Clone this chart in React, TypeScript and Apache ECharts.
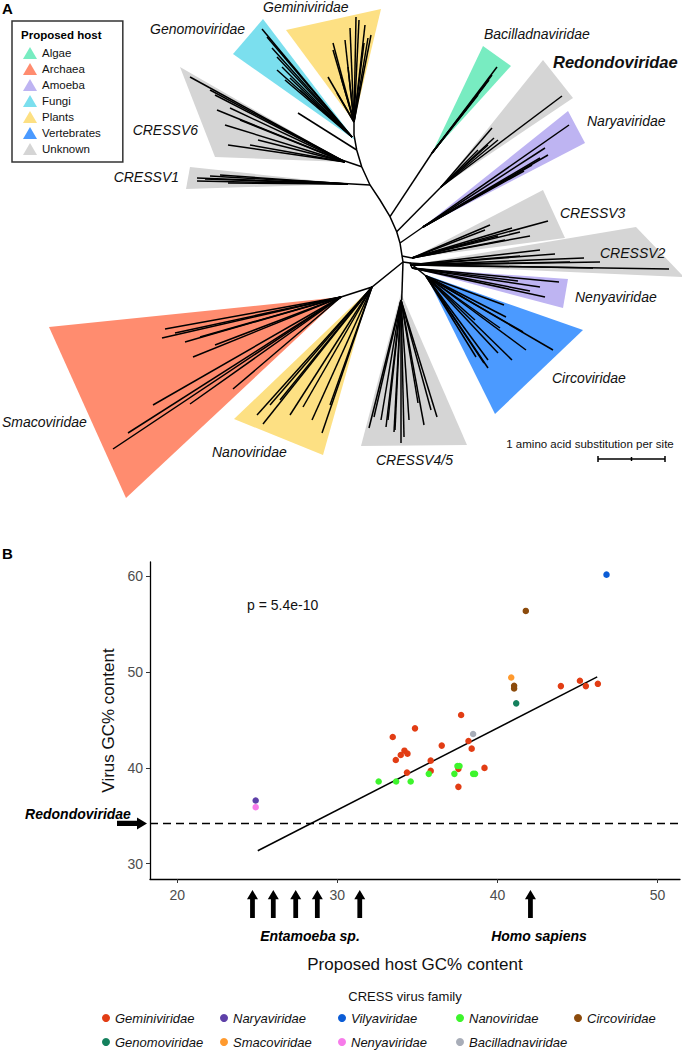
import React, { useEffect, useRef } from 'react';
import * as echarts from 'echarts';

const FONT = '"Liberation Sans", Arial, Helvetica, sans-serif';

// ---------------- Panel A: tree (coordinates in tree units) ----------------
const HOSTS = ['Algae', 'Archaea', 'Amoeba', 'Fungi', 'Plants', 'Vertebrates', 'Unknown'];
const HOST_COLORS = ['#78ECC1', '#FF8C6F', '#BEB4F2', '#7BDFEE', '#FDE083', '#4B9AFF', '#D5D5D5'];

const CLADE_NAMES = [
  'Genomoviridae', 'Geminiviridae', 'CRESSV6', 'CRESSV1', 'Bacilladnaviridae', 'Redondoviridae',
  'Naryaviridae', 'CRESSV3', 'CRESSV2', 'Nenyaviridae', 'Circoviridae', 'CRESSV4/5', 'Smacoviridae', 'Nanoviridae',
];
const CLADE_HOSTS = [
  'Fungi', 'Plants', 'Unknown', 'Unknown', 'Algae', 'Unknown',
  'Amoeba', 'Unknown', 'Unknown', 'Amoeba', 'Vertebrates', 'Unknown', 'Archaea', 'Plants',
];
// wedge: [apex, tipA, tipB]
const CLADE_WEDGES = [
  [[355, 140], [233, 54], [263, 19]],
  [[354, 122], [286, 30], [381, 9]],
  [[345, 162], [180, 67], [215, 157]],
  [[348, 184], [190, 167], [186, 189]],
  [[432, 153], [483, 46], [511, 66]],
  [[441, 187], [543, 60], [573, 98]],
  [[423, 227], [568, 111], [585, 143]],
  [[412, 258], [543, 190], [565, 238]],
  [[410, 265], [636, 227], [684, 277]],
  [[412, 268], [568, 279], [563, 308]],
  [[426, 275], [583, 330], [495, 414]],
  [[401, 293], [361, 446], [467, 445]],
  [[341, 297], [49, 327], [126, 498]],
  [[370, 289], [234, 419], [323, 455]],
];
const CLADE_LABEL_POS = [
  [245, 29], [263, 7], [198, 130], [179, 177], [484, 34], [553, 62], [587, 121],
  [560, 213], [600, 253], [575, 297], [552, 378], [376, 460], [2, 422], [212, 452],
];
const CLADE_LABEL_ALIGN = [
  'right', 'left', 'right', 'right', 'left', 'left', 'left',
  'left', 'left', 'left', 'left', 'left', 'left', 'left',
];
// leaf origins and tips per clade
const CLADE_ORIGINS = [
  [352, 137], [354, 122], [345, 162], [348, 184], [432, 153], [441, 187], [423, 227],
  [412, 258], [410, 265], [412, 268], [426, 276], [401, 300], [341, 297], [372, 287],
];
const CLADE_TIPS = [
  [[262, 29], [267, 37], [277, 57], [282, 67], [277, 70], [285, 80], [300, 90], [272, 48], [290, 78]],
  [[356, 17], [359, 20], [371, 35], [368, 38], [364, 43], [365, 25], [333, 43], [333, 50], [345, 40], [348, 67], [341, 77], [328, 77], [337, 93], [350, 28]],
  [[190, 77], [210, 90], [217, 110], [225, 125], [240, 120], [228, 145], [258, 140], [250, 145], [215, 95], [230, 108]],
  [[197, 178], [197, 181], [210, 176], [220, 175], [228, 183], [205, 179]],
  [[497, 67], [492, 75], [485, 85], [478, 95], [489, 80]],
  [[562, 96], [492, 128], [494, 138], [498, 140], [478, 150], [488, 145]],
  [[569, 125], [548, 155], [545, 148], [540, 158], [524, 171], [532, 165]],
  [[548, 221], [490, 225], [520, 232], [505, 240], [530, 236], [485, 230], [512, 228], [498, 236]],
  [[669, 269], [593, 268], [584, 258], [555, 254], [540, 250], [600, 262], [570, 262], [520, 256]],
  [[559, 282], [540, 287], [545, 297], [518, 281], [530, 291]],
  [[553, 350], [526, 350], [523, 332], [512, 360], [488, 360], [488, 368], [484, 363], [504, 305], [506, 317], [500, 328], [498, 353], [476, 357], [475, 320]],
  [[369, 428], [374, 417], [381, 420], [386, 427], [388, 420], [394, 432], [401, 443], [404, 437], [409, 420], [418, 403], [424, 425], [431, 410], [437, 417], [395, 430]],
  [[165, 329], [162, 338], [175, 333], [193, 357], [153, 405], [128, 433], [113, 449], [190, 404], [233, 389], [200, 337], [185, 342], [215, 345]],
  [[257, 415], [263, 424], [322, 433], [303, 407], [280, 400], [330, 405], [290, 415], [270, 405], [312, 420]],
];
const BACKBONE = [
  [[403, 262], [400, 243], [396.7, 231.7], [390, 216.7], [380, 200], [370, 185], [361.7, 166.7], [356.7, 150], [354, 135], [354, 122]],
  [[370, 185], [300, 181]],
  [[361.7, 166.7], [333, 157]],
  [[356.7, 150], [298, 113]],
  [[390, 216.7], [432, 153]],
  [[396.7, 231.7], [441, 187]],
  [[400, 243], [423, 227]],
  [[402, 256], [412, 258]],
  [[403, 262], [372, 287], [341, 297]],
  [[403, 262], [401.7, 300]],
  [[403, 262], [410, 263], [426, 276]],
  [[410, 263], [412, 268]],
  [[410, 263], [440, 265]],
];
const SCALE_BAR = [
  [[598, 459], [665, 459]],
  [[598, 456], [598, 462]],
  [[631.5, 457], [631.5, 461]],
  [[665, 456], [665, 462]],
];

// ---------------- Panel B: scatter ----------------
const FAMILIES = [
  'Geminiviridae', 'Naryaviridae', 'Vilyaviridae', 'Nanoviridae', 'Circoviridae',
  'Genomoviridae', 'Smacoviridae', 'Nenyaviridae', 'Bacilladnaviridae',
];
const FAMILY_COLORS = ['#E23D14', '#5E40A8', '#0B5CD6', '#3DF52C', '#8C4B0C', '#14805D', '#FF9A2E', '#F77BEA', '#A8ADB8'];

const GEMINI_PTS = [
  [33.46, 43.23], [34.85, 44.13], [37.73, 45.52], [36.52, 42.33], [38.19, 42.81], [38.39, 42.01],
  [34.19, 41.8], [33.96, 41.35], [34.38, 41.49], [33.65, 40.83], [35.83, 40.76], [34.35, 39.51],
  [35.83, 39.69], [37.56, 39.9], [39.19, 40.0], [37.56, 38.02], [43.96, 48.54], [45.15, 49.1],
  [45.52, 48.54], [46.27, 48.78],
];
const NARYA_PTS = [[24.9, 36.6]];
const VILYA_PTS = [[46.81, 60.18]];
const NANO_PTS = [
  [32.58, 38.58], [33.67, 38.58], [34.58, 38.58], [35.71, 39.38], [37.5, 40.2], [37.63, 40.2],
  [37.31, 39.38], [38.48, 39.38], [38.6, 39.38],
];
const CIRCO_PTS = [[41.77, 56.39], [41.04, 48.57], [41.04, 48.3]];
const GENOMO_PTS = [[41.17, 46.74]];
const SMACO_PTS = [[40.86, 49.44]];
const NENYA_PTS = [[24.9, 35.9]];
const BACILLAD_PTS = [[38.48, 43.54]];
const FAMILY_POINTS = [GEMINI_PTS, NARYA_PTS, VILYA_PTS, NANO_PTS, CIRCO_PTS, GENOMO_PTS, SMACO_PTS, NENYA_PTS, BACILLAD_PTS];

const REGRESSION_LINE = [[25.03, 31.35], [46.23, 49.5]];
const REDONDO_GC = 34.2;
const ENTAMOEBA_GC = [24.7, 26.0, 27.4, 28.75, 31.4];
const HUMAN_GC = [42.06];
const X_TICKS = [20, 30, 40, 50];
const Y_TICKS = [30, 40, 50, 60];
const X_MIN = 18.3;
const X_MAX = 51.4;
const Y_MIN = 28.4;
const Y_MAX = 61.5;

const ARROW_PATH = 'path://M6,0 L12,10 L8.6,10 L8.6,30 L3.4,30 L3.4,10 L0,10 Z';

function buildOption() {
  const treeSeries = HOSTS.map((host, hi) => ({
    type: 'custom',
    name: host,
    coordinateSystem: 'cartesian2d',
    xAxisIndex: 0,
    yAxisIndex: 0,
    silent: true,
    z: 1,
    itemStyle: { color: HOST_COLORS[hi] },
    data: CLADE_HOSTS.map((h, ci) => (h === host ? ci : -1)).filter((ci) => ci >= 0),
    renderItem: (params: any, api: any) => {
      const i = api.value(0) as number;
      const pts = CLADE_WEDGES[i].map((p) => api.coord(p));
      const lp = api.coord(CLADE_LABEL_POS[i]);
      const isRedondo = CLADE_NAMES[i] === 'Redondoviridae';
      return {
        type: 'group',
        children: [
          { type: 'polygon', shape: { points: pts }, style: { fill: HOST_COLORS[hi] } },
          {
            type: 'text',
            x: lp[0],
            y: lp[1],
            style: {
              text: CLADE_NAMES[i],
              fill: '#111',
              font: isRedondo ? `italic bold 16.5px ${FONT}` : `italic 14px ${FONT}`,
              align: CLADE_LABEL_ALIGN[i],
              verticalAlign: 'middle',
            },
          },
        ],
      };
    },
  }));

  const branchData: any[] = [];
  BACKBONE.forEach((b) => branchData.push({ coords: b }));
  CLADE_TIPS.forEach((tips, ci) => tips.forEach((t) => branchData.push({ coords: [CLADE_ORIGINS[ci], t] })));
  SCALE_BAR.forEach((b) => branchData.push({ coords: b }));

  const familySeries = FAMILIES.map((f, fi) => ({
    type: 'scatter',
    name: f,
    xAxisIndex: 1,
    yAxisIndex: 1,
    data: FAMILY_POINTS[fi],
    symbol: 'circle',
    symbolSize: 6.5,
    itemStyle: { color: FAMILY_COLORS[fi], opacity: 1 },
    z: 5,
    silent: true,
  }));

  return {
    animation: false,
    backgroundColor: '#fff',
    textStyle: { fontFamily: FONT },
    grid: [
      { left: 0, top: 0, width: 682, height: 510, outerBoundsMode: 'none' },
      { left: 150, right: 2, top: 562, bottom: 171, outerBoundsMode: 'none' },
    ],
    xAxis: [
      { gridIndex: 0, type: 'value', min: 0, max: 682, show: false },
      {
        gridIndex: 1,
        type: 'value',
        min: X_MIN,
        max: X_MAX,
        axisLine: { show: true, lineStyle: { color: '#000', width: 1.3 } },
        axisTick: { show: true, length: 4, customValues: X_TICKS, lineStyle: { color: '#333', width: 1 } },
        axisLabel: { customValues: X_TICKS, fontSize: 14, color: '#4d4d4d', margin: 9, fontFamily: FONT },
        splitLine: { show: false },
        name: 'Proposed host GC% content',
        nameLocation: 'middle',
        nameGap: 77,
        nameTextStyle: { fontSize: 17, color: '#111', fontFamily: FONT },
      },
    ],
    yAxis: [
      { gridIndex: 0, type: 'value', min: 0, max: 510, inverse: true, show: false },
      {
        gridIndex: 1,
        type: 'value',
        min: Y_MIN,
        max: Y_MAX,
        axisLine: { show: true, lineStyle: { color: '#000', width: 1.3 } },
        axisTick: { show: true, length: 4, customValues: Y_TICKS, lineStyle: { color: '#333', width: 1 } },
        axisLabel: { customValues: Y_TICKS, fontSize: 14, color: '#4d4d4d', margin: 7, fontFamily: FONT },
        splitLine: { show: false },
        name: 'Virus GC% content',
        nameLocation: 'middle',
        nameGap: 33,
        nameRotate: 90,
        nameTextStyle: { fontSize: 17, color: '#111', fontFamily: FONT },
      },
    ],
    legend: [
      {
        data: HOSTS,
        orient: 'vertical',
        left: 12,
        top: 21,
        icon: 'triangle',
        itemWidth: 14,
        itemHeight: 12,
        itemGap: 2,
        padding: [25, 22, 6, 11],
        borderColor: '#333',
        borderWidth: 1.5,
        borderRadius: 0,
        selectedMode: false,
        textStyle: { fontSize: 11.5, color: '#111', lineHeight: 14, fontFamily: FONT },
      },
      {
        data: FAMILIES,
        orient: 'horizontal',
        left: 102,
        top: 1011,
        width: 600,
        icon: 'circle',
        itemWidth: 8,
        itemHeight: 8,
        itemGap: 10,
        padding: 0,
        selectedMode: false,
        textStyle: { fontSize: 13, fontStyle: 'italic', color: '#111', width: 95, lineHeight: 14, fontFamily: FONT },
      },
    ],
    graphic: [
      { type: 'text', x: 2, y: 8, style: { text: 'A', font: `bold 15px ${FONT}`, fill: '#000', verticalAlign: 'middle' } },
      { type: 'text', x: 21, y: 35, style: { text: 'Proposed host', font: `bold 11.5px ${FONT}`, fill: '#000', verticalAlign: 'middle' } },
      { type: 'text', x: 590, y: 444, style: { text: '1 amino acid substitution per site', font: `11.5px ${FONT}`, fill: '#111', align: 'center', verticalAlign: 'middle' } },
      { type: 'text', x: 2, y: 553, style: { text: 'B', font: `bold 15px ${FONT}`, fill: '#000', verticalAlign: 'middle' } },
      { type: 'text', x: 247, y: 605, style: { text: 'p = 5.4e-10', font: `14px ${FONT}`, fill: '#111', verticalAlign: 'middle' } },
      { type: 'text', x: 78, y: 814, style: { text: 'Redondoviridae', font: `italic bold 14px ${FONT}`, fill: '#000', align: 'center', verticalAlign: 'middle' } },
      { type: 'text', x: 310, y: 936, style: { text: 'Entamoeba sp.', font: `italic bold 14px ${FONT}`, fill: '#000', align: 'center', verticalAlign: 'middle' } },
      { type: 'text', x: 539, y: 936, style: { text: 'Homo sapiens', font: `italic bold 14px ${FONT}`, fill: '#000', align: 'center', verticalAlign: 'middle' } },
      { type: 'text', x: 405, y: 996, style: { text: 'CRESS virus family', font: `13px ${FONT}`, fill: '#111', align: 'center', verticalAlign: 'middle' } },
    ],
    series: [
      ...treeSeries,
      {
        type: 'lines',
        name: 'branches',
        coordinateSystem: 'cartesian2d',
        xAxisIndex: 0,
        yAxisIndex: 0,
        polyline: true,
        silent: true,
        z: 3,
        lineStyle: { color: '#000', width: 1.5, opacity: 1, curveness: 0 },
        data: branchData,
      },
      {
        type: 'line',
        name: 'fit',
        xAxisIndex: 1,
        yAxisIndex: 1,
        data: REGRESSION_LINE,
        symbol: 'none',
        silent: true,
        z: 4,
        lineStyle: { color: '#000', width: 1.5 },
        markLine: {
          silent: true,
          symbol: ['none', 'none'],
          label: { show: false },
          lineStyle: { color: '#000', width: 1.4, type: [8, 5] },
          data: [{ yAxis: REDONDO_GC }],
        },
      },
      ...familySeries,
      {
        type: 'scatter',
        name: 'host arrows',
        xAxisIndex: 1,
        yAxisIndex: 1,
        clip: false,
        silent: true,
        symbol: ARROW_PATH,
        symbolSize: [11, 28],
        symbolOffset: [0, 25],
        itemStyle: { color: '#000', opacity: 1 },
        data: [...ENTAMOEBA_GC, ...HUMAN_GC].map((x) => [x, Y_MIN]),
      },
      {
        type: 'scatter',
        name: 'redondo arrow',
        xAxisIndex: 1,
        yAxisIndex: 1,
        clip: false,
        silent: true,
        symbol: ARROW_PATH,
        symbolSize: [12, 30],
        symbolRotate: -90,
        symbolOffset: [-18, 0],
        itemStyle: { color: '#000', opacity: 1 },
        data: [[X_MIN, REDONDO_GC]],
      },
    ],
  };
}

export default function App() {
  const ref = useRef<HTMLDivElement>(null);
  useEffect(() => {
    if (!ref.current) return;
    const chart = echarts.init(ref.current, null, { renderer: 'svg' });
    chart.setOption(buildOption() as any);
    return () => chart.dispose();
  }, []);
  return (
    <div
      ref={ref}
      style={{ position: 'absolute', left: 0, top: 0, width: 682, height: 1050, background: '#fff' }}
    />
  );
}
